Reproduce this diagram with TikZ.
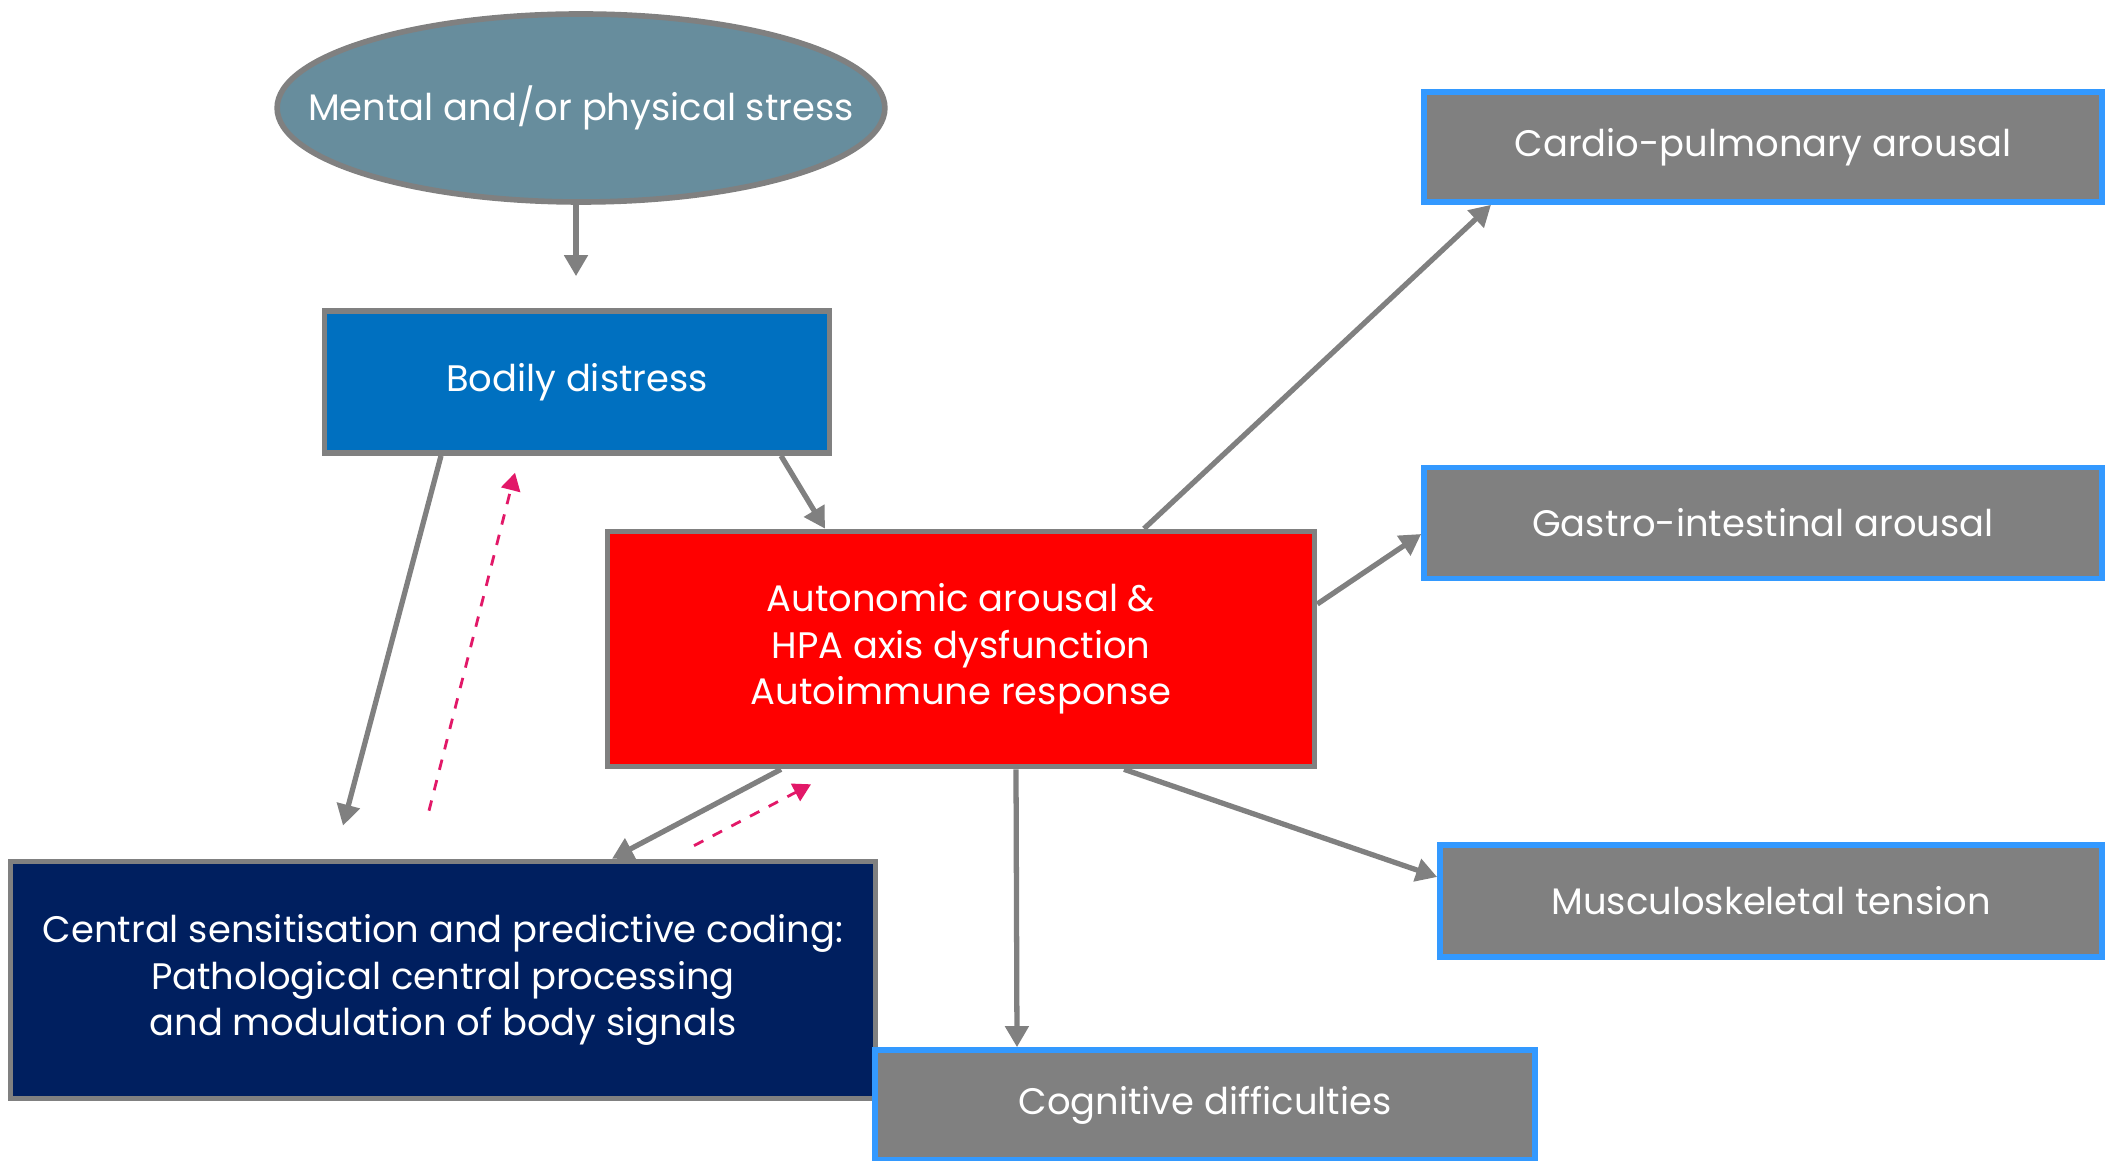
\documentclass[tikz,border=0pt]{standalone}
\usepackage{fontspec}
\setmainfont{Poppins}
\usetikzlibrary{arrows.meta,shapes.geometric}
\definecolor{stressfill}{RGB}{103,141,157}
\definecolor{edgegray}{RGB}{128,128,128}
\definecolor{distressblue}{RGB}{0,112,192}
\definecolor{arousalred}{RGB}{255,0,0}
\definecolor{centralnavy}{RGB}{0,31,95}
\definecolor{outcomeedge}{RGB}{51,153,255}
\definecolor{feedbackpink}{RGB}{226,24,104}

\begin{document}
\begin{tikzpicture}[x=1cm,y=1cm,
    box/.style={draw=edgegray,line width=1.6pt,text=white,align=center,
      inner sep=0pt,font=\fontsize{10.5}{13.2}\selectfont},
    outbox/.style={box,draw=outcomeedge,fill=edgegray},
    link/.style={edgegray,line width=1.5pt,-{Triangle[length=6pt,width=6.5pt]}},
    feedback/.style={feedbackpink,line width=0.8pt,dashed,
      -{Triangle[length=5pt,width=5.5pt]}}]
  \useasboundingbox (0,0) rectangle (21.1,11.6);

  % --- source and central boxes ---
  \node[box,ellipse,fill=stressfill,inner xsep=-0.58cm,
    minimum width=6.04cm,minimum height=1.88cm]
    (stress) at (5.81,10.52) {Mental and/or physical stress};
  \node[box,fill=distressblue,minimum width=5.05cm,minimum height=1.42cm]
    (distress) at (5.77,7.78) {Bodily distress};
  \node[box,fill=arousalred,minimum width=7.07cm,minimum height=2.35cm]
    (arousal) at (9.61,5.11)
    {Autonomic arousal \&\\HPA axis dysfunction\\Autoimmune response};
  \node[box,fill=centralnavy,minimum width=8.65cm,minimum height=2.37cm]
    (central) at (4.43,1.80)
    {Central sensitisation and predictive coding:\\
     Pathological central processing\\and modulation of body signals};

  % --- outcome boxes ---
  \node[outbox,minimum width=6.78cm,minimum height=1.10cm]
    (cardio) at (17.63,10.13) {Cardio-pulmonary arousal};
  \node[outbox,minimum width=6.78cm,minimum height=1.11cm]
    (gastro) at (17.63,6.37) {Gastro-intestinal arousal};
  \node[outbox,minimum width=6.62cm,minimum height=1.12cm]
    (musculo) at (17.71,2.59) {Musculoskeletal tension};
  \node[outbox,minimum width=6.60cm,minimum height=1.10cm]
    (cognitive) at (12.05,0.55) {Cognitive difficulties};

  % free arrow ends (gaps before the boxes)
  \coordinate (stressend) at ([xshift=-0.01cm,yshift=0.32cm]distress.north);
  \coordinate (distressend) at ([xshift=-1.0cm,yshift=0.33cm]central.north);

  % --- main links ---
  \draw[link] (stress.south -| stressend) -- (stressend);
  \draw[link] ([xshift=2.04cm]distress.south) -- ([xshift=-1.36cm]arousal.north);
  \draw[link] ([xshift=-1.36cm]distress.south) -- (distressend);
  \draw[link] ([xshift=-1.80cm]arousal.south) -- ([xshift=1.69cm]central.north);
  \draw[link] ([xshift=1.83cm]arousal.north) -- ([xshift=-2.72cm]cardio.south);
  \draw[link] ([yshift=0.45cm]arousal.east) -- ([yshift=-0.11cm]gastro.west);
  \draw[link] ([xshift=1.63cm]arousal.south) -- ([yshift=0.24cm]musculo.west);
  \draw[link] ([xshift=0.55cm]arousal.south) -- ([xshift=-1.88cm]cognitive.north);

  % --- feedback (dashed) ---
  \draw[feedback] ([xshift=-0.14cm,yshift=0.48cm]central.north)
    -- ([xshift=-0.62cm,yshift=-0.17cm]distress.south);
  \draw[feedback] ([xshift=2.51cm,yshift=0.13cm]central.north)
    -- ([xshift=-1.50cm,yshift=-0.15cm]arousal.south);
\end{tikzpicture}
\end{document}
